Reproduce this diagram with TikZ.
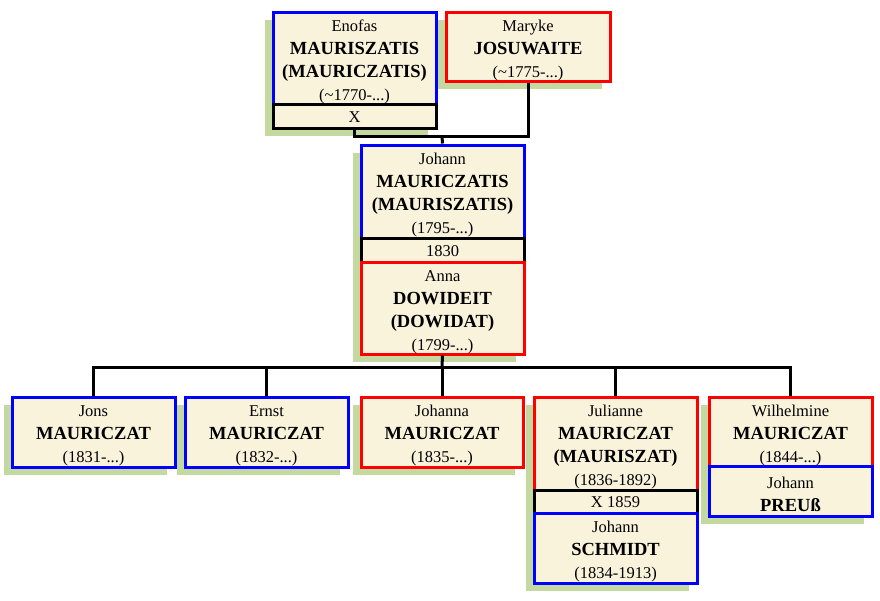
\documentclass[tikz,border=0pt]{standalone}
\usepackage{fontspec}
\setmainfont{Liberation Serif}
\definecolor{beige}{RGB}{250,243,220}
\definecolor{shadowgreen}{RGB}{195,217,160}
\newcommand{\surn}[1]{{\fontsize{18.5}{23}\selectfont\bfseries #1}}
\newcommand{\fstrut}{\rule{0pt}{19pt}}
\begin{document}
\begin{tikzpicture}[x=1pt,y=-1pt,
  pbox/.style={draw, line width=3pt, fill=beige, minimum width=163pt, inner sep=0pt, align=center,
    font=\fontsize{16.5}{23}\selectfont},
  male/.style={pbox, draw=blue},
  female/.style={pbox, draw=red},
  wed/.style={pbox, draw=black},
  shadow/.style={fill=shadowgreen, draw=none},
  link/.style={draw=black, line width=3pt}]
\useasboundingbox (0,0) rectangle (880,600);
% shadows
\fill[shadow] (265,20) rectangle (428,136);
\fill[shadow] (438,20) rectangle (602,89);
\fill[shadow] (353,153) rectangle (516,362);
\fill[shadow] (4,405) rectangle (167,475);
\fill[shadow] (177,405) rectangle (340,475);
\fill[shadow] (353,405) rectangle (515,475);
\fill[shadow] (526,405) rectangle (689,591);
\fill[shadow] (701,405) rectangle (864,524);
% boxes
\node[male, minimum height=92pt] (enofas) at (354.5,58) {\fstrut Enofas\\\surn{MAURISZATIS}\\\surn{(MAURICZATIS)}\\(\textasciitilde1770-...)};
\node[wed, minimum height=24pt] (enofasx) at (354.5,116) {\rule{0pt}{13pt}X};
\node[female, minimum width=164pt, minimum height=69pt] (maryke) at (528,46.5) {\fstrut Maryke\\\surn{JOSUWAITE}\\(\textasciitilde1775-...)};
\node[male, minimum height=93pt] (johann) at (442.5,191.5) {\fstrut Johann\\\surn{MAURICZATIS}\\\surn{(MAURISZATIS)}\\(1795-...)};
\node[wed, minimum height=24pt] (w1830) at (442.5,250) {\rule{0pt}{13pt}1830};
\node[female, minimum height=92pt] (anna) at (442.5,308) {\fstrut Anna\\\surn{DOWIDEIT}\\\surn{(DOWIDAT)}\\(1799-...)};
\node[male, minimum height=70pt] (jons) at (93.5,432) {\fstrut Jons\\\surn{MAURICZAT}\\(1831-...)};
\node[male, minimum height=70pt] (ernst) at (266.5,432) {\fstrut Ernst\\\surn{MAURICZAT}\\(1832-...)};
\node[female, minimum width=162pt, minimum height=70pt] (johanna) at (442,432) {\fstrut Johanna\\\surn{MAURICZAT}\\(1835-...)};
\node[female, minimum height=93pt] (julianne) at (615.5,443.5) {\fstrut Julianne\\\surn{MAURICZAT}\\\surn{(MAURISZAT)}\\(1836-1892)};
\node[wed, minimum height=23pt] (w1859) at (615.5,501.5) {\rule{0pt}{13pt}X 1859};
\node[male, minimum height=70pt] (schmidt) at (615.5,548) {\fstrut Johann\\\surn{SCHMIDT}\\(1834-1913)};
\node[female, minimum height=69pt] (wilhelmine) at (790.5,431.5) {\fstrut Wilhelmine\\\surn{MAURICZAT}\\(1844-...)};
\node[male, minimum height=50pt] (preuss) at (790.5,491) {\fstrut Johann\\\surn{PREUß}};
% connectors
\coordinate (top) at (442,136);
\coordinate (bar) at (442,367);
\draw[link] (enofasx.south) |- (top) -| (maryke.south);
\draw[link] (top) -- (johann.north);
\draw[link] (anna.south) -- (bar);
\foreach \c in {jons,ernst,johanna,julianne,wilhelmine}
  \draw[link] (bar) -| (\c.north);
\end{tikzpicture}
\end{document}
